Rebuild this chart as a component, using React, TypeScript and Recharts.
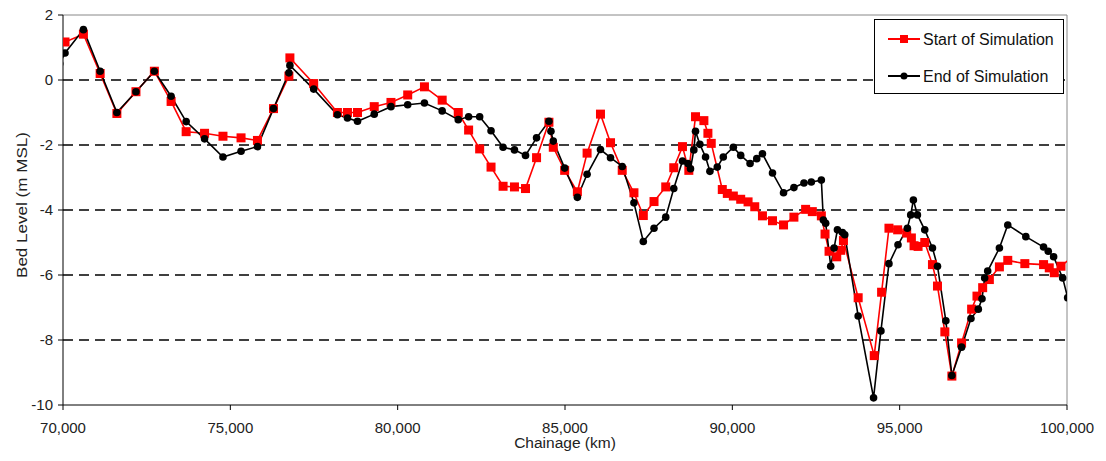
import { Legend, Line, LineChart, ReferenceLine, XAxis, YAxis } from "recharts";

const startChainage = [
  70060, 70610, 71110, 71610, 72180, 72730, 73230, 73680, 74230, 74780,
  75320, 75810, 76290, 76750, 76780, 77490, 78200, 78500, 78800, 79300,
  79800, 80300, 80800, 81330, 81810, 82120, 82450, 82790, 83150, 83490,
  83820, 84150, 84520, 84650, 84990, 85370, 85660, 86060, 86360, 86710,
  87060, 87340, 87660, 88010, 88250, 88510, 88700, 88900, 89150, 89270,
  89370, 89700, 89850, 90030, 90250, 90470, 90670, 90900, 91200, 91530,
  91840, 92190, 92390, 92660, 92770, 92890, 93120, 93240, 93320, 93760,
  94240, 94460, 94680, 94940, 95210, 95350, 95430, 95550, 95750, 95980,
  96130, 96350, 96560, 96850, 97150, 97310, 97480, 97680, 97980, 98230,
  98740, 99300, 99470, 99620, 99820, 100210,
];
const startLevel = [
  1.17, 1.41, 0.2, -1.03, -0.36, 0.27, -0.66, -1.59, -1.64, -1.73,
  -1.78, -1.86, -0.88, 0.12, 0.68, -0.11, -1.0, -1.0, -1.0, -0.82,
  -0.69, -0.46, -0.21, -0.62, -1.0, -1.54, -2.12, -2.68, -3.27, -3.29,
  -3.34, -2.39, -1.3, -2.07, -2.78, -3.44, -2.25, -1.05, -1.93, -2.78,
  -3.47, -4.17, -3.74, -3.29, -2.7, -2.05, -2.78, -1.13, -1.25, -1.64,
  -1.95, -3.37, -3.49, -3.57, -3.67, -3.75, -3.9, -4.18, -4.33, -4.46,
  -4.22, -3.98, -4.05, -4.18, -4.74, -5.27, -5.44, -5.24, -4.94, -6.7,
  -8.48, -6.53, -4.56, -4.61, -4.71, -4.86, -5.1, -5.12, -5.0, -5.68,
  -6.34, -7.75, -9.11, -8.09, -7.05, -6.65, -6.39, -6.14, -5.75, -5.55,
  -5.65, -5.68, -5.78, -5.93, -5.73, -5.4,
];

const endChainage = [
  69900, 70060, 70610, 71110, 71610, 72180, 72730, 73230, 73680, 74230,
  74780, 75320, 75810, 76290, 76750, 76780, 77490, 78200, 78500, 78800,
  79300, 79800, 80300, 80800, 81330, 81810, 82120, 82450, 82790, 83150,
  83490, 83820, 84150, 84520, 84580, 84650, 84990, 85370, 85660, 86060,
  86360, 86710, 87060, 87340, 87660, 88010, 88250, 88510, 88670, 88750,
  88850, 88900, 89030, 89200, 89330, 89550, 89730, 90030, 90250, 90530,
  90730, 90900, 91200, 91530, 91840, 92140, 92360, 92660, 92720, 92790,
  92940, 93040, 93140, 93290, 93360, 93760, 94220, 94440, 94680, 94950,
  95230, 95330, 95410, 95530, 95750, 95980, 96130, 96380, 96560, 96850,
  97130, 97350, 97460, 97540, 97630, 97980, 98230, 98770, 99300, 99440,
  99600, 99870, 100020, 100210,
];
const endLevel = [
  0.5, 0.83, 1.55, 0.27, -1.0, -0.36, 0.27, -0.5, -1.28, -1.81,
  -2.37, -2.19, -2.05, -0.88, 0.22, 0.45, -0.28, -1.07, -1.17, -1.27,
  -1.05, -0.82, -0.76, -0.71, -0.95, -1.22, -1.13, -1.13, -1.56, -2.07,
  -2.15, -2.32, -1.78, -1.27, -1.58, -1.88, -2.71, -3.61, -2.9, -2.14,
  -2.39, -2.66, -3.78, -4.97, -4.56, -4.22, -3.34, -2.49, -2.57, -2.73,
  -2.15, -1.58, -1.98, -2.37, -2.81, -2.68, -2.37, -2.07, -2.32, -2.57,
  -2.42, -2.27, -2.86, -3.47, -3.31, -3.17, -3.14, -3.08, -4.31, -4.41,
  -5.73, -5.17, -4.61, -4.69, -4.76, -7.26, -9.78, -7.72, -5.65, -5.07,
  -4.56, -4.15, -3.69, -4.15, -4.61, -5.17, -5.73, -7.41, -9.09, -8.22,
  -7.34, -7.05, -6.73, -6.09, -5.88, -5.17, -4.46, -4.82, -5.14, -5.27,
  -5.44, -6.09, -6.7, -6.23,
];

const xTicks = [70000, 75000, 80000, 85000, 90000, 95000, 100000];
const yTicks = [2, 0, -2, -4, -6, -8, -10];
const gridLevels = [0, -2, -4, -6, -8];

const startData = startChainage.map((c, i) => ({ chainage: c, level: startLevel[i] }));
const endData = endChainage.map((c, i) => ({ chainage: c, level: endLevel[i] }));

const FONT = "'Liberation Sans', Arial, sans-serif";
const RED = "#ff0000";

const SquareDot = (props: any) => {
  const { cx, cy, index } = props;
  if (cx == null || cy == null) return <g key={`sq-${index}`} />;
  return <rect key={`sq-${index}`} x={cx - 4.5} y={cy - 4.5} width={9} height={9} fill={RED} />;
};

const YTitle = (props: any) => {
  const vb = props.viewBox || { x: 0, y: 15, width: 63, height: 390 };
  const x = vb.x + 21;
  const y = vb.y + vb.height / 2 - 5;
  return (
    <text
      x={x}
      y={y}
      transform={`rotate(-90, ${x}, ${y})`}
      textAnchor="middle"
      dominantBaseline="central"
      fontFamily={FONT}
      fontSize={15}
      textLength={146}
      lengthAdjust="spacingAndGlyphs"
      fill="#222"
    >
      Bed Level (m MSL)
    </text>
  );
};

const XTitle = (props: any) => {
  const vb = props.viewBox || { x: 63, y: 405, width: 1004, height: 56 };
  return (
    <text
      x={vb.x + vb.width / 2}
      y={vb.y + 43}
      textAnchor="middle"
      fontFamily={FONT}
      fontSize={15.5}
      fill="#222"
    >
      Chainage (km)
    </text>
  );
};

const LegendBox = () => (
  <div
    style={{
      width: 190,
      height: 75,
      border: "1px solid #000",
      background: "#fff",
      boxSizing: "border-box",
    }}
  >
    <svg width={188} height={73} style={{ display: "block" }}>
      <line x1={13} x2={45} y1={19} y2={19} stroke={RED} strokeWidth={2} />
      <rect x={25} y={15} width={8} height={8} fill={RED} />
      <text x={48} y={19} dominantBaseline="central" fontFamily={FONT} fontSize={16} fill="#111">
        Start of Simulation
      </text>
      <line x1={13} x2={45} y1={56} y2={56} stroke="#000" strokeWidth={2} />
      <circle cx={29} cy={56} r={3.5} fill="#000" />
      <text x={48} y={56} dominantBaseline="central" fontFamily={FONT} fontSize={16} fill="#111">
        End of Simulation
      </text>
    </svg>
  </div>
);

export default function App() {
  return (
    <div style={{ position: "absolute", left: 0, top: 0, background: "#fff" }}>
      <LineChart
        width={1106}
        height={461}
        margin={{ top: 15, right: 39, left: 0, bottom: 0 }}
      >
        <XAxis
          type="number"
          dataKey="chainage"
          domain={[70000, 100000]}
          ticks={xTicks}
          allowDataOverflow
          tickFormatter={(v) => Number(v).toLocaleString("en-US")}
          tick={{ fontSize: 15, fill: "#222", fontFamily: FONT }}
          tickSize={5}
          tickMargin={12}
          height={56}
          stroke="#000"
          label={<XTitle />}
        />
        <YAxis
          type="number"
          dataKey="level"
          domain={[-10, 2]}
          ticks={yTicks}
          allowDataOverflow
          tick={{ fontSize: 15, fill: "#222", fontFamily: FONT }}
          tickSize={5}
          tickMargin={5}
          width={63}
          stroke="#000"
          label={<YTitle />}
        />
        {gridLevels.map((g) => (
          <ReferenceLine key={g} y={g} stroke="#000" strokeWidth={1.4} strokeDasharray="10 6" />
        ))}
        <ReferenceLine y={2} stroke="#888" />
        <ReferenceLine x={100000} stroke="#888" />
        <Line
          data={startData}
          dataKey="level"
          name="Start of Simulation"
          stroke={RED}
          strokeWidth={1.6}
          dot={SquareDot}
          activeDot={false}
          isAnimationActive={false}
        />
        <Line
          data={endData}
          dataKey="level"
          name="End of Simulation"
          stroke="#000"
          strokeWidth={1.6}
          dot={{ r: 3.8, fill: "#000", stroke: "none" }}
          activeDot={false}
          isAnimationActive={false}
        />
        <Legend
          layout="vertical"
          align="center"
          verticalAlign="middle"
          content={() => <LegendBox />}
          wrapperStyle={{ left: 874, top: 19, width: 190, height: 75 }}
        />
      </LineChart>
    </div>
  );
}
